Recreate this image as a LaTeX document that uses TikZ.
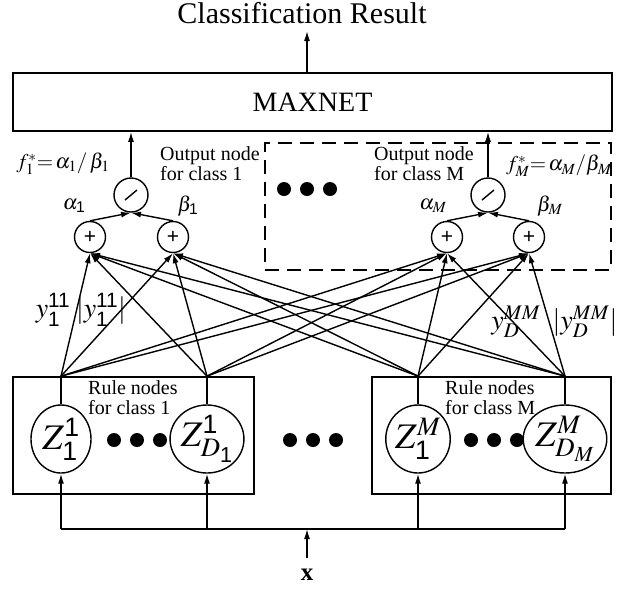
\documentclass[tikz,border=0pt]{standalone}
\usepackage{mathptmx}
\usepackage{amsmath}
\usepackage{fontspec}
\setmainfont{Liberation Serif}
\setsansfont{Liberation Sans}
\usetikzlibrary{arrows.meta,shapes.geometric}
\newcommand{\fsz}[1]{\fontsize{#1}{#1}\selectfont}
\newcommand{\sdig}[1]{\textsf{\upshape #1}}
\tikzset{
    % Plain boxes (MAXNET, rule groups)
    block/.style={
        draw,
        line width=1.7pt,
        rectangle,
        inner sep=0pt,
    },
    % Group of output nodes
    group/.style={
        block,
        dash pattern=on 14pt off 8pt,
    },
    % Summation
    sumnode/.style={
        draw,
        circle,
        line width=1.4pt,
        minimum size=31pt,
        inner sep=0pt,
        font=\sffamily\fsz{21},
    },
    % Division
    divnode/.style={
        draw,
        circle,
        line width=1.4pt,
        minimum size=34pt,
        inner sep=0pt,
        path picture={
            \draw[line width=1.4pt]
                ([shift={(-6pt,-5pt)}]path picture bounding box.center) -- ++(12pt,10pt);
        },
    },
    % Rule node
    rulenode/.style={
        draw,
        ellipse,
        line width=1.4pt,
        minimum width=60pt,
        minimum height=68pt,
        inner sep=0pt,
        font=\fsz{36},
    },
    dot/.style={
        fill,
        circle,
        minimum size=14pt,
        inner sep=0pt,
    },
    link/.style={
        line width=1.4pt,
        -{Latex[length=10pt,width=6pt]},
    },
    wire/.style={
        line width=1.4pt,
    },
    caption/.style={
        font=\fsz{20},
        align=left,
        anchor=west,
        inner sep=0pt,
    },
    label/.style={
        font=\fsz{21},
        inner sep=1pt,
    },
}

\begin{document}
\begin{tikzpicture}[x=1pt,y=-1pt]
    \useasboundingbox (0,0) rectangle (626,590);

    % Top: MAXNET and result
    \node[font=\fsz{30}, inner sep=0pt] (result) at (302,13) {Classification Result};
    \coordinate (rtip) at (307,31);
    \node[block, minimum width=599pt, minimum height=58pt, font=\fsz{28}] (maxnet) at (312.5,102) {MAXNET};
    \draw[link] (maxnet.north -| rtip) -- (rtip);

    % Output nodes
    \node[group, minimum width=346pt, minimum height=127pt] (grpM) at (438,206.5) {};

    \node[divnode] (div1) at (131,195) {};
    \node[divnode] (divM) at (488,195) {};
    \node[sumnode] (s1a) at (90,237) {+};
    \node[sumnode] (s1b) at (173,237) {+};
    \node[sumnode] (sMa) at (447,237) {+};
    \node[sumnode] (sMb) at (529,237) {+};

    \node[label] (a1) at (74,206) {$\alpha_{\sdig{1}}$};
    \node[label] (b1) at (188,206) {$\beta_{\sdig{1}}$};
    \node[label] (aM) at (433,206) {$\alpha_M$};
    \node[label] (bM) at (550,206) {$\beta_M$};
    \node[label] (f1) at (63,164) {$f_1^{*}{=}\,\alpha_1/\,\beta_1$};
    \node[label] (fM) at (559,166) {$f_M^{*}{=}\,\alpha_M/\beta_M$};

    \node[caption] (cap1) at (160,164) {Output node\\for class 1};
    \node[caption] (capM) at (374,164) {Output node\\for class M};

    \foreach \i/\x in {1/284,2/307,3/330}
        \node[dot] (gd\i) at (\x,189) {};

    \draw[link] (s1a.north) -- (div1.south);
    \draw[link] (s1b.north) -- (div1.south);
    \draw[link] (sMa.north) -- (divM.south);
    \draw[link] (sMb.north) -- (divM.south);
    \draw[link] (div1.north) -- (div1.north |- maxnet.south);
    \draw[link] (divM.north) -- (divM.north |- maxnet.south);

    % Rule nodes
    \node[block, minimum width=241pt, minimum height=117pt] (rule1) at (133.5,435.5) {};
    \node[block, minimum width=239pt, minimum height=117pt] (ruleM) at (491.5,435.5) {};
    \node[caption] (rcap1) at (88,398) {Rule nodes\\for class 1};
    \node[caption] (rcapM) at (445,398) {Rule nodes\\for class M};

    \node[rulenode] (z11) at (61,439) {$Z^{\sdig{1}}_{\sdig{1}}$};
    \node[rulenode] (z1D) at (207,439) {$Z^{\sdig{1}}_{D_{\sdig{1}}}$};
    \node[rulenode] (zM1) at (418,439) {$Z^{M}_{\sdig{1}}$};
    \node[rulenode] (zMD) at (565,439) {$Z^{M}_{D_M}$};

    \foreach \g/\c in {l/137,m/313,r/494}
        \foreach \k/\dx in {1/-23,2/0,3/23}
            \node[dot] (\g\k) at (\c+\dx,440) {};

    % Connections to the summation nodes
    \foreach \z in {z11,z1D,zM1,zMD} {
        \coordinate (o-\z) at (\z.north |- rule1.north);
        \draw[wire] (\z.north) -- (o-\z);
        \foreach \s in {s1a,s1b,sMa,sMb}
            \draw[link] (o-\z) -- (\s.south);
    }

    \node[font=\fsz{28}, inner sep=0pt] (y1) at (53,310) {$y^{\sdig{11}}_{\sdig{1}}$};
    \node[font=\fsz{28}, inner sep=0pt] (ay1) at (101,310) {$\lvert y^{\sdig{11}}_{\sdig{1}}\rvert$};
    \node[font=\fsz{28}, inner sep=0pt] (yM) at (516,322) {$y^{MM}_{D}$};
    \node[font=\fsz{28}, inner sep=0pt] (ayM) at (585,322) {$\lvert y^{MM}_{D}\rvert$};

    % Input bus
    \coordinate (bus) at (307,529);
    \coordinate (xtail) at (307,558);
    \node[font=\bfseries\fsz{25}, inner sep=0pt] (x) at (307,575) {x};
    \draw[wire] (z11.south |- bus) -- (zMD.south |- bus);
    \draw[link] (xtail) -- (bus);
    \foreach \z in {z11,z1D,zM1,zMD}
        \draw[link] (\z.south |- bus) -- (\z.south);
\end{tikzpicture}
\end{document}
